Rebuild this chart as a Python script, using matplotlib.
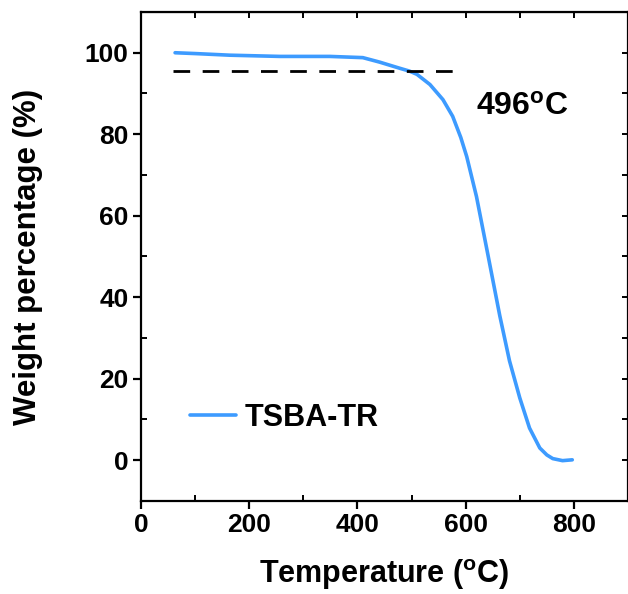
import matplotlib
matplotlib.use("Agg")
import matplotlib.pyplot as plt
from matplotlib.ticker import MultipleLocator, NullFormatter

plt.rcParams['font.family'] = ['Liberation Sans', 'DejaVu Sans']
plt.rcParams['font.weight'] = 'bold'
plt.rcParams['axes.labelweight'] = 'bold'
plt.rcParams['mathtext.default'] = 'regular'

# TGA curve
temp = [63, 100, 164, 257, 349, 410, 441, 478, 496, 510, 534, 558, 576, 591,
        602, 620, 641, 663, 681, 700, 718, 737, 750, 761, 779, 797]
weight = [100.0, 99.8, 99.4, 99.1, 99.1, 98.8, 97.7, 96.2, 95.5, 94.7, 92.2,
          88.5, 84.4, 79.2, 74.5, 64.7, 50.5, 35.5, 24.4, 15.3, 7.9, 3.0,
          1.3, 0.4, -0.1, 0.1]
onset_x = [60, 592]
onset_y = [95.5, 95.5]
label = 'TSBA-TR'
note = '496$^{o}$C'

fig = plt.figure(figsize=(6.28, 5.94), dpi=100)
ax = fig.add_axes([0.2245, 0.1566, 0.7755, 0.8232])

ax.plot(temp, weight, color='#3d9bff', lw=2.6, label=label,
        solid_capstyle='round', solid_joinstyle='round')
ax.plot(onset_x, onset_y, color='black', lw=2, dashes=(6, 4.5))

ax.set_xlim(0, 900)
ax.set_ylim(-10, 110)
ax.xaxis.set_minor_locator(MultipleLocator(100))
ax.yaxis.set_minor_locator(MultipleLocator(10))
ax.set_xticks([0, 200, 400, 600, 800])
ax.set_yticks([0, 20, 40, 60, 80, 100])

for s in ax.spines.values():
    s.set_linewidth(1.6)
ax.tick_params(which='major', direction='out', length=6, width=1.6, labelsize=19, pad=3)
ax.tick_params(which='minor', direction='in', length=4, width=1.4)

top = ax.secondary_xaxis('top')
top.xaxis.set_major_locator(MultipleLocator(100))
top.xaxis.set_major_formatter(NullFormatter())
top.tick_params(direction='in', length=4, width=1.4)
right = ax.secondary_yaxis('right')
right.yaxis.set_major_locator(MultipleLocator(10))
right.yaxis.set_major_formatter(NullFormatter())
right.tick_params(direction='in', length=4, width=1.4)

ax.set_xlabel('Temperature ($^{o}$C)', fontsize=22, labelpad=14)
ax.set_ylabel('Weight percentage (%)', fontsize=22.5, labelpad=30)

ax.text(619, 86.8, note, fontsize=23, ha='left', va='center')

ax.legend(loc=(0.075, 0.115), frameon=False, fontsize=22, handlelength=1.5,
          handletextpad=0.3)

fig.savefig('out.png', dpi=100)
